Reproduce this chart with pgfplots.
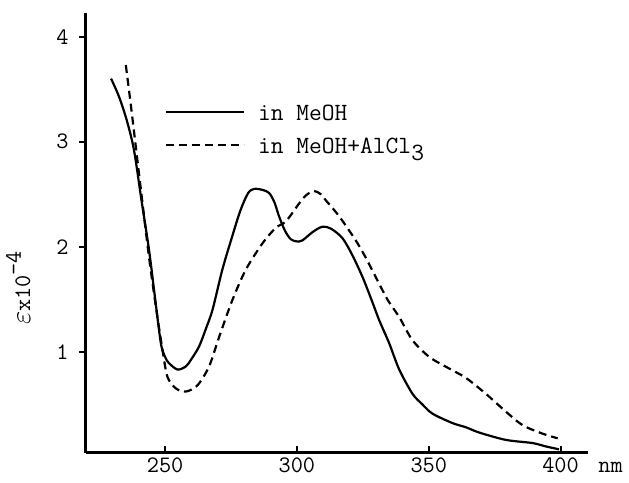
\documentclass[border=0pt]{standalone}
\usepackage{fontspec}
\usepackage{pgfplots}
\pgfplotsset{compat=1.18}
\renewcommand{\familydefault}{\ttdefault}
\begin{document}
\begin{tikzpicture}
\useasboundingbox (-43pt,-15pt) rectangle (271.5pt,226.5pt);
\begin{axis}[
  at={(0,0)}, anchor=south west,
  width=251pt, height=220pt, scale only axis,
  xmin=220, xmax=410.4, ymin=0.035, ymax=4.225,
  axis x line=bottom, axis y line=left, axis line style={-, line width=1.5pt},
  xtick={250,300,350,400}, ytick={1,2,3,4},
  xtick pos=bottom, ytick pos=left,
  tick align=outside, major tick length=3.5pt,
  every tick/.append style={line width=1pt, black},
  x tick style={yshift=3.5pt},
  /pgf/number format/assume math mode=true,
  xticklabel style={font=\fontsize{11.8}{13}\ttfamily, anchor=base, inner sep=0pt, yshift=-6.5pt},
  yticklabel style={font=\fontsize{11.8}{13}\ttfamily, anchor=east, inner sep=0pt, xshift=-5pt},
  ylabel={{\Large$\varepsilon$}x10\raisebox{0.9ex}{–4}},
  ylabel style={at={(axis description cs:-0.135,0.375)}, anchor=center, rotate=0, font=\fontsize{11.8}{13}\ttfamily},
  xlabel={nm},
  xlabel style={at={(axis description cs:1.02,0)}, anchor=base west, inner sep=0pt, yshift=-10pt, font=\fontsize{11.8}{13}\ttfamily},
  clip=false,
  legend cell align=left,
  legend image code/.code={\draw[#1] (0pt,2.5pt) -- (39pt,2.5pt);},
  legend style={draw=none, fill=none, inner sep=0pt, outer sep=0pt,
    at={(axis description cs:0.157,0.791)}, anchor=north west,
    font=\fontsize{12.4}{14}\ttfamily, row sep=4.5pt,
    nodes={inner sep=0pt, text height=8pt, text depth=4pt},
    /tikz/every odd column/.append style={column sep=6.5pt}},
]
\addplot[black, line width=1.1pt, smooth, tension=0.5] coordinates {
(229.5,3.60)(232.5,3.43)(235.5,3.20)(238.2,2.92)(241,2.45)(243.9,1.97)(246,1.55)
(248.4,1.08)(250,0.95)(251.5,0.89)(254.7,0.83)(257.9,0.86)(260,0.93)(262.9,1.05)
(265.5,1.22)(268,1.40)(271.7,1.78)(275,2.06)(278.5,2.34)(281.5,2.51)(283.8,2.55)(287,2.54)
(289.5,2.51)(291.5,2.42)(293.2,2.29)(295.5,2.15)(297.7,2.07)(300,2.05)(302.1,2.06)
(306,2.14)(309.7,2.19)(313,2.17)(317.3,2.08)(321,1.92)(324.9,1.71)(328.5,1.48)
(331.2,1.30)(335,1.08)(338.8,0.83)(343.8,0.60)(347.5,0.50)(351.4,0.41)(359,0.32)
(364.1,0.28)(369.1,0.23)(379.2,0.16)(389.3,0.13)(394,0.10)(399.4,0.07)
};
\addlegendentry{in MeOH}
\addplot[black, line width=1.1pt, dash pattern=on 4pt off 2.5pt, smooth, tension=0.5] coordinates {
(235.1,3.73)(237,3.35)(238.9,2.95)(241.5,2.40)(243.9,1.90)(246.5,1.43)(249,1.02)
(250.9,0.76)(254.1,0.65)(257.9,0.62)(262.3,0.68)(266.7,0.86)(270.5,1.14)(275.5,1.49)
(280.6,1.78)(286.9,2.03)(292,2.18)(295.8,2.24)(300.8,2.41)(303.5,2.49)(306.5,2.53)
(309,2.50)(311,2.44)(316,2.29)(322.3,2.06)(326,1.90)(329.9,1.71)(334.5,1.49)
(338.8,1.33)(343.8,1.11)(350.2,0.95)(357.7,0.84)(364.1,0.75)(371.6,0.60)(379.2,0.43)
(385.6,0.30)(393.1,0.22)(398.9,0.175)
};
\addlegendentry{in MeOH+AlCl\raisebox{-0.6ex}{3}}
\end{axis}
\end{tikzpicture}
\end{document}
